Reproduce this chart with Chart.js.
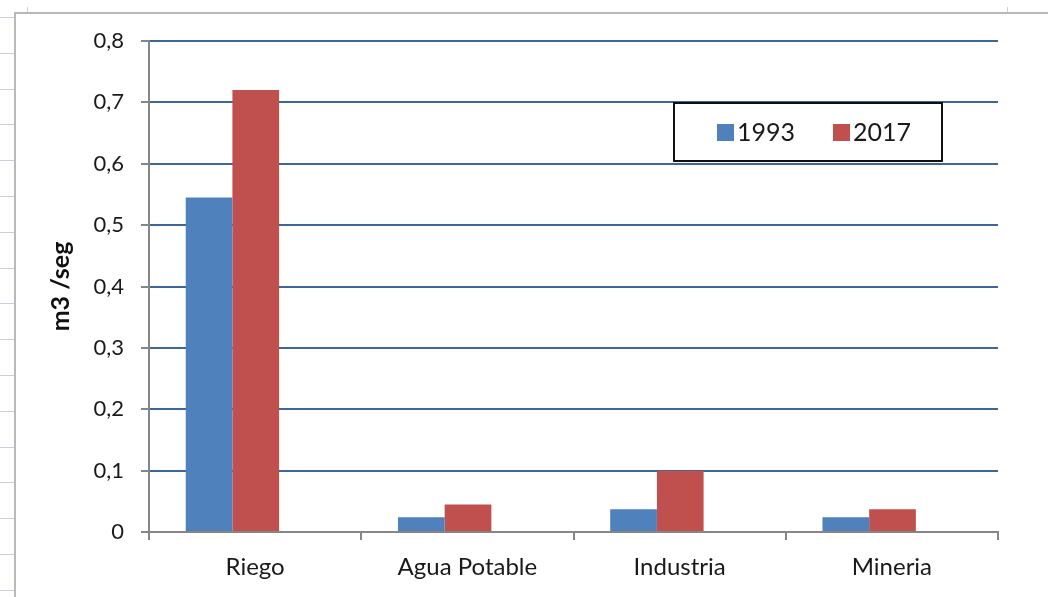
<!DOCTYPE html>
<html>
<head>
<meta charset="utf-8">
<script src="https://cdn.jsdelivr.net/npm/chart.js@4"></script>
<style>
  html, body { margin: 0; padding: 0; background: #fff; }
  #wrap { position: relative; width: 1048px; height: 597px; }
</style>
</head>
<body>
<div id="wrap"><canvas id="usoChart" width="1048" height="597"></canvas></div>
<script>
// Caudal por uso (m3/seg)
const categories = ['Riego', 'Agua Potable', 'Industria', 'Mineria'];
const years = ['1993', '2017'];
const values1993 = [0.545, 0.024, 0.037, 0.024];
const values2017 = [0.72, 0.045, 0.1, 0.037];

const FONT = 'Lato, "Open Sans", sans-serif';

// grey sheet frame on the left/top, like the spreadsheet edge
const framePlugin = {
  id: 'frame',
  beforeDraw(chart) {
    const ctx = chart.ctx;
    ctx.save();
    ctx.strokeStyle = '#b8b8b8';
    ctx.lineWidth = 2;
    ctx.beginPath();
    ctx.moveTo(15, 597); ctx.lineTo(15, 13); ctx.lineTo(1048, 13);
    ctx.stroke();
    ctx.strokeStyle = '#c8d0dc';
    ctx.lineWidth = 1;
    for (let y = 17; y < 597; y += 35.8) {
      ctx.beginPath();
      ctx.moveTo(0, Math.round(y) + 0.5); ctx.lineTo(14, Math.round(y) + 0.5);
      ctx.stroke();
    }
    [27.5, 1007.5].forEach(x => {
      ctx.beginPath();
      ctx.moveTo(x, 7); ctx.lineTo(x, 12);
      ctx.stroke();
    });
    ctx.restore();
  }
};

// groups sit a bit left of the category centre in the original
const shiftBars = {
  id: 'shiftBars',
  afterDatasetsUpdate(chart) {
    const xs = chart.scales.x;
    const catW = (xs.right - xs.left) / chart.data.labels.length;
    chart.data.datasets.forEach((ds, i) => {
      chart.getDatasetMeta(i).data.forEach(bar => { bar.x -= catW * 0.107; });
    });
  }
};

// legend box inside the plot area
const boxLegend = {
  id: 'boxLegend',
  afterDraw(chart) {
    const ctx = chart.ctx;
    const a = chart.chartArea;
    const x = a.left + 525, y = a.top + 62, w = 268, h = 58;
    ctx.save();
    ctx.fillStyle = '#fff';
    ctx.fillRect(x, y, w, h);
    ctx.strokeStyle = '#111';
    ctx.lineWidth = 2;
    ctx.strokeRect(x, y, w, h);
    ctx.font = '25px ' + FONT;
    ctx.textBaseline = 'middle';
    let cx = x + 43;
    chart.data.datasets.forEach((ds, i) => {
      ctx.fillStyle = ds.backgroundColor;
      ctx.fillRect(cx, y + h / 2 - 8, 17, 17);
      ctx.fillStyle = '#1a1a1a';
      ctx.fillText(ds.label, cx + 20, y + h / 2 + 1);
      cx += 116;
    });
    ctx.restore();
  }
};

new Chart(document.getElementById('usoChart'), {
  type: 'bar',
  data: {
    labels: categories,
    datasets: [
      { label: years[0], data: values1993, backgroundColor: '#4F81BD' },
      { label: years[1], data: values2017, backgroundColor: '#C0504D' }
    ]
  },
  options: {
    responsive: false,
    animation: false,
    layout: { padding: { left: 0, right: 50, top: 41, bottom: 0 } },
    datasets: { bar: { categoryPercentage: 0.44, barPercentage: 1 } },
    plugins: { legend: { display: false }, tooltip: { enabled: false } },
    scales: {
      x: {
        afterFit(s) { s.height = 65; },
        grid: { display: true, offset: true, drawOnChartArea: false, drawTicks: true, tickLength: 8, color: '#868686', lineWidth: 2 },
        border: { display: true, color: '#868686', width: 2 },
        ticks: { color: '#1a1a1a', font: { family: FONT, size: 24 }, padding: 13 }
      },
      y: {
        min: 0, max: 0.8,
        afterFit(s) { s.width = 149; },
        grid: { color: '#3f659a', lineWidth: 2, drawTicks: true, tickLength: 8, tickColor: '#868686' },
        border: { display: true, color: '#868686', width: 2 },
        ticks: {
          stepSize: 0.1, color: '#1a1a1a', padding: 17,
          font: { family: FONT, size: 22 },
          callback: v => (Math.round(v * 10) / 10).toString().replace('.', ',')
        },
        title: {
          display: true, text: 'm3 /seg', color: '#111',
          font: { family: FONT, size: 25, weight: 'bold' },
          padding: { top: 46, bottom: 0 }
        }
      }
    }
  },
  plugins: [framePlugin, shiftBars, boxLegend]
});
</script>
</body>
</html>
